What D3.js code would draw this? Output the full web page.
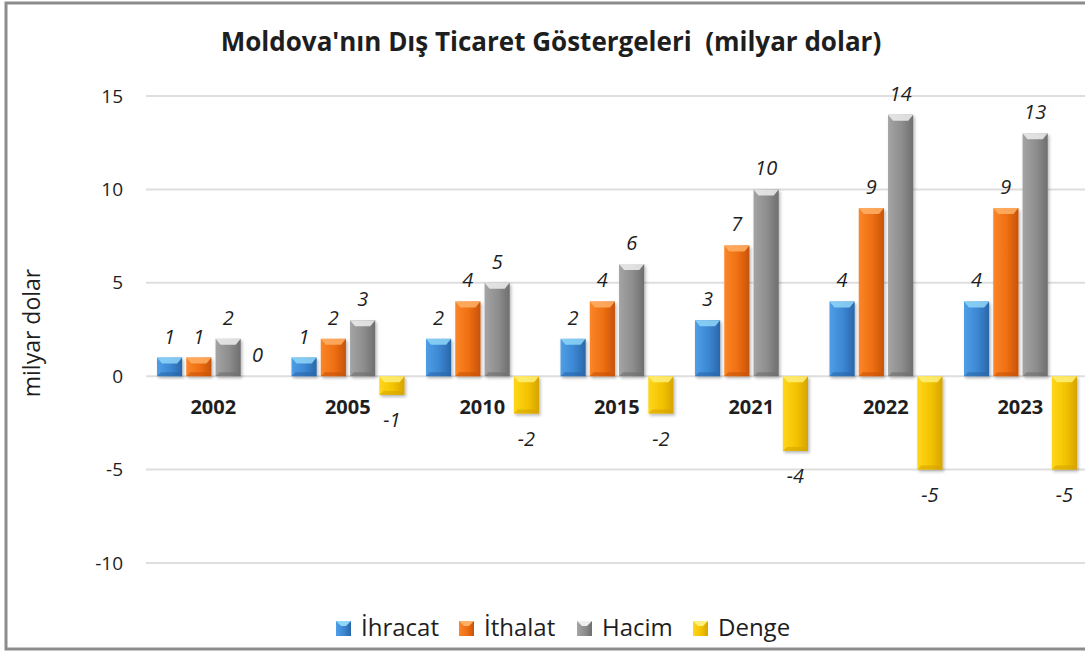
<!DOCTYPE html>
<html>
<head>
<meta charset="utf-8">
<script src="https://d3js.org/d3.v7.min.js"></script>
<style>
    body { margin: 0; background: #fff; }
    svg text { font-family: "Open Sans", sans-serif; fill: #1e1e1e; }
</style>
</head>
<body>
<script type="text/javascript">
    ////////////////// data //////////////////
    var years = ["2002", "2005", "2010", "2015", "2021", "2022", "2023"];
    var seriesNames = ["İhracat", "İthalat", "Hacim", "Denge"];
    var ihracat = [1, 1, 2, 2, 3, 4, 4];
    var ithalat = [1, 2, 4, 4, 7, 9, 9];
    var hacim = [2, 3, 5, 6, 10, 14, 13];
    var denge = [0, -1, -2, -2, -4, -5, -5];
    var yTicks = [-10, -5, 0, 5, 10, 15];

    ////////////////// settings //////////////////
    var svgWidth = 1085;
    var svgHeight = 652;
    var plotLeft = 146;
    var plotRight = 1087.5;
    // colours: [dark, main, light, bevel]
    var palette = {
        "İhracat": ["#2a66a8", "#3b86d2", "#4f9ee6", "#8fd6f8"],
        "İthalat": ["#c65308", "#ee6e12", "#fb8628", "#ffb066"],
        "Hacim":   ["#6e6e6e", "#8d8d8d", "#a4a4a4", "#eeeeee"],
        "Denge":   ["#d6a400", "#f3c300", "#ffd61a", "#fff07a"]
    };

    var rows = years.map(function (y, i) {
        return {year: y, values: [ihracat[i], ithalat[i], hacim[i], denge[i]]};
    });

    var svg = d3.select("body").append("svg")
        .attr("width", svgWidth)
        .attr("height", svgHeight);

    var defs = svg.append("defs");
    seriesNames.forEach(function (s, k) {
        var c = palette[s];
        var g = defs.append("linearGradient")
            .attr("id", "grad" + k)
            .attr("x1", "0").attr("x2", "1").attr("y1", "0").attr("y2", "0");
        g.append("stop").attr("offset", "0%").attr("stop-color", c[2]);
        g.append("stop").attr("offset", "55%").attr("stop-color", c[1]);
        g.append("stop").attr("offset", "100%").attr("stop-color", c[0]);
    });
    var shadow = defs.append("filter").attr("id", "shadow")
        .attr("x", "-30%").attr("y", "-10%").attr("width", "160%").attr("height", "130%");
    shadow.append("feDropShadow")
        .attr("dx", 1.5).attr("dy", 2).attr("stdDeviation", 1.6)
        .attr("flood-color", "#000").attr("flood-opacity", 0.28);

    // frame
    svg.append("rect")
        .attr("x", 6).attr("y", 3)
        .attr("width", svgWidth + 10).attr("height", 646)
        .attr("fill", "none")
        .attr("stroke", "#8c8c8c")
        .attr("stroke-width", 3);

    // scales
    var y = d3.scaleLinear().domain([-10, 15]).range([563, 96]);
    var x0 = d3.scaleBand().domain(years).range([plotLeft, plotRight]);
    var x1 = d3.scaleBand().domain(d3.range(seriesNames.length))
        .range([11, 124]).paddingInner(0.14);

    // gridlines
    svg.append("g").selectAll("line")
        .data(yTicks)
        .enter().append("line")
        .attr("x1", plotLeft).attr("x2", svgWidth)
        .attr("y1", function (d) { return y(d); })
        .attr("y2", function (d) { return y(d); })
        .attr("stroke", "#dedede")
        .attr("stroke-width", 2);

    // y axis labels
    var yAxis = d3.axisLeft(y).tickValues(yTicks).tickSize(0).tickPadding(0)
        .tickFormat(function (d) { return String(d); });
    var yg = svg.append("g")
        .attr("transform", "translate(123,0)")
        .call(yAxis);
    yg.select(".domain").remove();
    yg.selectAll("text")
        .style("font-size", "19px")
        .style("font-family", "'Open Sans', sans-serif")
        .attr("fill", "#2a2a2a");

    svg.append("text")
        .attr("transform", "translate(40,333) rotate(-90)")
        .attr("text-anchor", "middle")
        .style("font-size", "23px")
        .text("milyar dolar");

    // bars
    var groups = svg.append("g").selectAll("g")
        .data(rows)
        .enter().append("g")
        .attr("transform", function (d) { return "translate(" + x0(d.year) + ",0)"; });

    var bars = groups.selectAll("g.bar")
        .data(function (d) { return d.values.map(function (v, k) { return {k: k, v: v}; }); })
        .enter().append("g")
        .attr("class", "bar")
        .filter(function (d) { return d.v !== 0; });

    bars.append("rect")
        .attr("x", function (d) { return x1(d.k); })
        .attr("width", x1.bandwidth())
        .attr("y", function (d) { return Math.min(y(d.v), y(0)); })
        .attr("height", function (d) { return Math.abs(y(d.v) - y(0)); })
        .attr("fill", function (d) { return "url(#grad" + d.k + ")"; })
        .attr("filter", "url(#shadow)");

    // top bevel
    bars.append("path")
        .attr("d", function (d) {
            var bx = x1(d.k), w = x1.bandwidth();
            var top = Math.min(y(d.v), y(0));
            var h = Math.min(6, Math.abs(y(d.v) - y(0)) / 2);
            return "M" + bx + "," + top + "L" + (bx + w) + "," + top +
                "L" + (bx + w - 5) + "," + (top + h) + "L" + (bx + 5) + "," + (top + h) + "Z";
        })
        .attr("fill", function (d) { return palette[seriesNames[d.k]][3]; })
        .attr("opacity", 0.85);
    // bottom bevel (darker)
    bars.append("path")
        .attr("d", function (d) {
            var bx = x1(d.k), w = x1.bandwidth();
            var bot = Math.max(y(d.v), y(0));
            var h = Math.min(4, Math.abs(y(d.v) - y(0)) / 3);
            return "M" + bx + "," + bot + "L" + (bx + w) + "," + bot +
                "L" + (bx + w - 4) + "," + (bot - h) + "L" + (bx + 4) + "," + (bot - h) + "Z";
        })
        .attr("fill", function (d) { return palette[seriesNames[d.k]][0]; })
        .attr("opacity", 0.6);

    // value labels
    groups.selectAll("text.val")
        .data(function (d) { return d.values.map(function (v, k) { return {k: k, v: v}; }); })
        .enter().append("text")
        .attr("class", "val")
        .attr("x", function (d) { return x1(d.k) + x1.bandwidth() / 2; })
        .attr("y", function (d) { return d.v >= 0 ? y(d.v) - 14 : y(d.v) + 32; })
        .attr("text-anchor", "middle")
        .style("font-size", "20px")
        .style("font-style", "italic")
        .text(function (d) { return d.v; });

    // category labels
    groups.append("text")
        .attr("x", x0.bandwidth() / 2)
        .attr("y", y(0) + 38)
        .attr("text-anchor", "middle")
        .style("font-size", "20px")
        .style("font-weight", "bold")
        .text(function (d) { return d.year; });

    // title
    svg.append("text")
        .attr("x", 551).attr("y", 51)
        .attr("text-anchor", "middle")
        .style("font-size", "26px")
        .style("font-weight", "bold")
        .style("white-space", "pre")
        .text("Moldova'nın Dış Ticaret Göstergeleri  (milyar dolar)");

    // legend
    var legendX = [336, 459, 577, 693];
    var legend = svg.append("g").selectAll("g")
        .data(seriesNames)
        .enter().append("g")
        .attr("transform", function (d, i) { return "translate(" + legendX[i] + ",621)"; });
    legend.append("rect")
        .attr("width", 15).attr("height", 15)
        .attr("fill", function (d, i) { return "url(#grad" + i + ")"; });
    legend.append("path")
        .attr("d", "M0,0L15,0L10,5L5,5Z")
        .attr("fill", function (d) { return palette[d][3]; });
    legend.append("text")
        .attr("x", 25).attr("y", 15)
        .style("font-size", "24px")
        .text(function (d) { return d; });
</script>
</body>
</html>
